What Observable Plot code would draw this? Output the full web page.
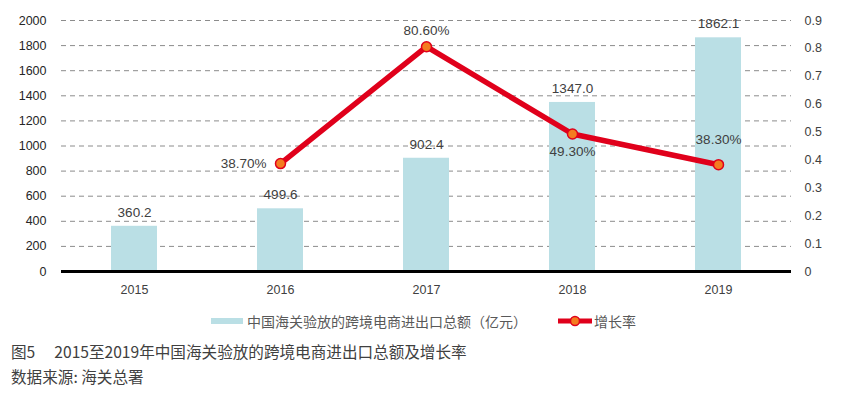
<!DOCTYPE html>
<html>
<head>
<meta charset="utf-8">
<script src="https://cdn.jsdelivr.net/npm/d3@7"></script>
<script src="https://cdn.jsdelivr.net/npm/@observablehq/plot@0.6"></script>
<style>
  html, body { margin: 0; padding: 0; background: #fff; }
  #wrap { position: relative; width: 853px; height: 397px; overflow: hidden; }
  #chart { position: absolute; left: 0; top: 0; }
  .legend { position: absolute; top: 311px; left: 0; width: 853px; height: 20px;
    font-family: "Noto Sans CJK SC", sans-serif; font-size: 14px; color: #595959; }
  .legend .item { position: absolute; top: 0; display: flex; align-items: center; height: 20px; }
  .caption { position: absolute; left: 11px; font-family: "Noto Sans CJK SC", sans-serif;
    font-size: 15.6px; color: #404040; white-space: pre; }
</style>
</head>
<body>
<div id="wrap">
  <div id="chart"></div>
  <div class="legend">
    <div class="item" style="left:211px">
      <svg width="36" height="8"><rect x="0" y="1" width="32" height="6" fill="#badfe5"></rect></svg>
      <span id="lg1"></span>
    </div>
    <div class="item" style="left:557px">
      <svg width="37" height="12"><line x1="1" x2="35" y1="6" y2="6" stroke="#e0001b" stroke-width="5"></line><circle cx="18" cy="6" r="4.5" fill="#f47c20" stroke="#e0001b" stroke-width="1.5"></circle></svg>
      <span id="lg2"></span>
    </div>
  </div>
  <div class="caption" id="cap1" style="top:340px"></div>
  <div class="caption" id="cap2" style="top:365px"></div>
</div>
<script>
const years = ["2015", "2016", "2017", "2018", "2019"];
const totals = [360.2, 499.6, 902.4, 1347.0, 1862.1];
const totalLabels = ["360.2", "499.6", "902.4", "1347.0", "1862.1"];
const growth = [null, 0.387, 0.806, 0.493, 0.383];
const growthLabels = [null, "38.70%", "80.60%", "49.30%", "38.30%"];
const leftTicks = [0, 200, 400, 600, 800, 1000, 1200, 1400, 1600, 1800, 2000];
const rightTicks = [0, 0.1, 0.2, 0.3, 0.4, 0.5, 0.6, 0.7, 0.8, 0.9];
const seriesNames = ["中国海关验放的跨境电商进出口总额（亿元）", "增长率"];
const captionLines = ["图5\u3000 2015至2019年中国海关验放的跨境电商进出口总额及增长率", "数据来源: 海关总署"];

document.getElementById("lg1").textContent = seriesNames[0];
document.getElementById("lg2").textContent = seriesNames[1];
document.getElementById("cap1").textContent = captionLines[0];
document.getElementById("cap2").textContent = captionLines[1];

const leftMax = 2000, rightMax = 0.9;
const k = leftMax / rightMax;

const rows = years.map((y, i) => ({year: y, total: totals[i], totalLabel: totalLabels[i], rate: growth[i], rateLabel: growthLabels[i]}));
const rateRows = rows.filter(d => d.rate != null);

const font = "'Liberation Sans', 'DejaVu Sans', sans-serif";

const chart = Plot.plot({
  width: 853,
  height: 300,
  marginLeft: 61,
  marginRight: 62,
  marginTop: 20,
  marginBottom: 29,
  style: {fontFamily: font, fontSize: "12px", color: "#262626", background: "#fff"},
  x: {type: "band", domain: years, paddingInner: 0.685, paddingOuter: 0.3425, label: null},
  y: {domain: [0, leftMax], label: null},
  marks: [
    Plot.ruleY(leftTicks.filter(t => t > 0), {stroke: "#8c8c8c", strokeWidth: 1, strokeDasharray: "5,4"}),
    Plot.barY(rows, {x: "year", y: "total", fill: "#badfe5"}),
    Plot.ruleY([0], {stroke: "#000", strokeWidth: 3}),
    Plot.axisY({ticks: leftTicks, tickSize: 0, tickPadding: 15, label: null, tickFormat: d => String(d), fontSize: 12.5, fill: "#262626"}),
    Plot.axisY({anchor: "right", ticks: rightTicks.map(v => v * k), tickSize: 0, tickPadding: 13, label: null,
      tickFormat: v => String(+(v / k).toFixed(1)), textAnchor: "start", fontSize: 12.5, fill: "#404040"}),
    Plot.axisX({tickSize: 0, tickPadding: 14, label: null, fontSize: 12.5, fill: "#404040"}),
    Plot.text(rows, {x: "year", y: "total", text: "totalLabel", dy: -14, fontSize: 13.5, fill: "#404040"}),
    Plot.line(rateRows, {x: "year", y: d => d.rate * k, stroke: "#e0001b", strokeWidth: 5.5, strokeLinejoin: "round"}),
    Plot.dot(rateRows, {x: "year", y: d => d.rate * k, r: 5, fill: "#f47c20", stroke: "#e0001b", strokeWidth: 1.5}),
    Plot.text(rateRows, {filter: d => d.year === "2016", x: "year", y: d => d.rate * k, text: "rateLabel", dx: -14, textAnchor: "end", fontSize: 13.5, fill: "#404040"}),
    Plot.text(rateRows, {filter: d => d.year === "2017", x: "year", y: d => d.rate * k, text: "rateLabel", dy: -16, fontSize: 13.5, fill: "#404040"}),
    Plot.text(rateRows, {filter: d => d.year === "2018", x: "year", y: d => d.rate * k, text: "rateLabel", dy: 18, fontSize: 13.5, fill: "#404040"}),
    Plot.text(rateRows, {filter: d => d.year === "2019", x: "year", y: d => d.rate * k, text: "rateLabel", dy: -25, fontSize: 13.5, fill: "#404040"})
  ]
});
document.getElementById("chart").appendChild(chart);
</script>
</body>
</html>
